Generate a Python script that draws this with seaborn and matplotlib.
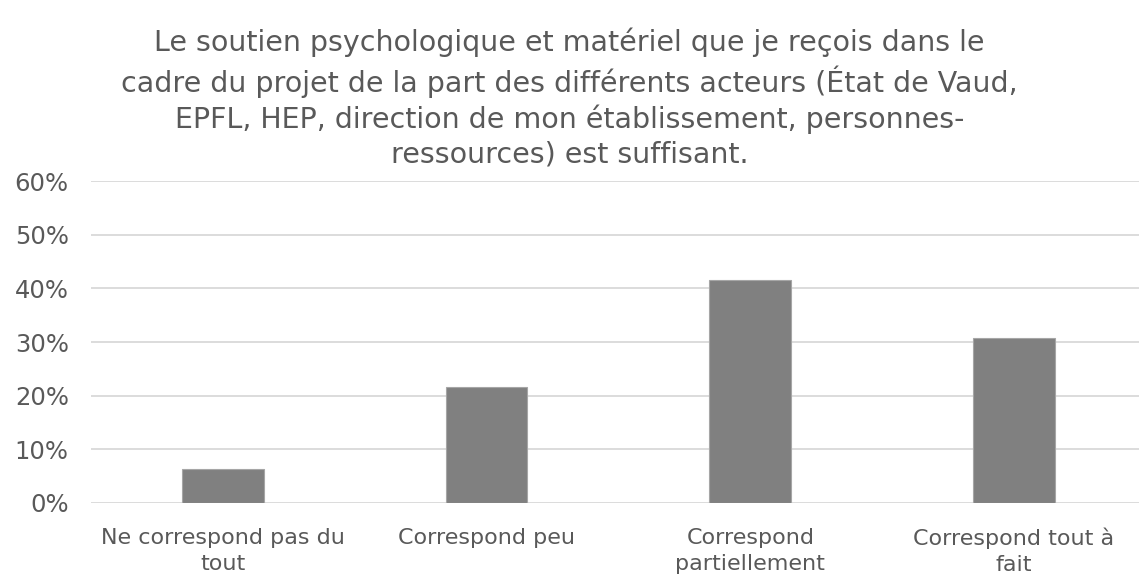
import matplotlib
matplotlib.use('Agg')
import matplotlib.pyplot as plt
from matplotlib.ticker import PercentFormatter
import pandas as pd
import seaborn as sns

# answers and share of respondents (in %)
categories = ['Ne correspond pas du\ntout', 'Correspond peu',
              'Correspond\npartiellement', 'Correspond tout à\nfait']
shares = [6.2, 21.6, 41.6, 30.7]

title = ('Le soutien psychologique et matériel que je reçois dans le\n'
         'cadre du projet de la part des différents acteurs (État de Vaud,\n'
         'EPFL, HEP, direction de mon établissement, personnes-\n'
         'ressources) est suffisant.')

df = pd.DataFrame({'reponse': categories, 'part': shares})

sns.set_style('white')
plt.rcParams['font.family'] = ['DejaVu Sans']
text_color = '#595959'

fig = plt.figure(figsize=(11.39, 5.77), dpi=100)
axes = fig.add_axes([91 / 1139, 74.3 / 577, 1048 / 1139, 321.4 / 577])

sns.barplot(data=df, x='reponse', y='part', color='#808080', width=0.31,
            saturation=1, edgecolor='#a6a6a6', linewidth=0.8, ax=axes)

axes.set_ylim(0, 60)
axes.set_xlim(-0.5, 3.474)
axes.set_yticks(range(0, 61, 10))
axes.yaxis.set_major_formatter(PercentFormatter(decimals=0))
axes.yaxis.grid(True, color='#d9d9d9', linewidth=1.3)
axes.set_axisbelow(True)
axes.set(xlabel='', ylabel='')
sns.despine(ax=axes, left=True, top=True, right=True, bottom=True)
axes.tick_params(axis='both', length=0, colors=text_color)
axes.tick_params(axis='y', pad=16, labelsize=17.5)
axes.tick_params(axis='x', pad=18, labelsize=16)
for lbl in axes.get_xticklabels():
    lbl.set_linespacing(1.38)

fig.text(0.5, 0.952, title, ha='center', va='top', fontsize=20.5,
         color=text_color, linespacing=1.3)

fig.savefig('out.png', dpi=100)
